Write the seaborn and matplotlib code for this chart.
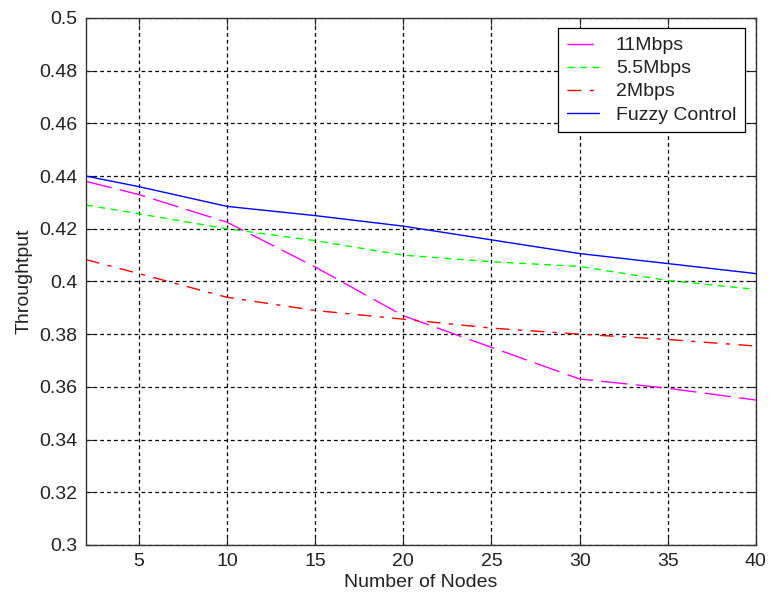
import matplotlib
matplotlib.use("Agg")
import matplotlib.pyplot as plt
import seaborn as sns
import pandas as pd

nodes = [2, 5, 10, 15, 20, 25, 30, 35, 40]
thr_11 = [0.438, 0.433, 0.4225, 0.4055, 0.387, 0.375, 0.363, 0.3595, 0.355]
thr_55 = [0.429, 0.4257, 0.420, 0.4155, 0.410, 0.4075, 0.4057, 0.4004, 0.397]
thr_2 = [0.4083, 0.403, 0.394, 0.389, 0.3857, 0.3823, 0.380, 0.378, 0.3755]
thr_fz = [0.440, 0.436, 0.4285, 0.425, 0.421, 0.4158, 0.4106, 0.4068, 0.403]
series_names = ["11Mbps", "5.5Mbps", "2Mbps", "Fuzzy Control"]
xticks = [5, 10, 15, 20, 25, 30, 35, 40]
yticks = [0.3, 0.32, 0.34, 0.36, 0.38, 0.4, 0.42, 0.44, 0.46, 0.48, 0.5]

sns.set_style("white")
plt.rcParams['font.family'] = ['Liberation Sans', 'DejaVu Sans']

df = pd.DataFrame({
    "nodes": nodes * 4,
    "thr": thr_11 + thr_55 + thr_2 + thr_fz,
    "series": sum([[s] * len(nodes) for s in series_names], []),
})

fig = plt.figure(figsize=(7.69, 6.0), dpi=100)
ax = fig.add_axes([0.1118, 0.0917, 0.8712, 0.8783])

palette = {"11Mbps": "#ff00ff", "5.5Mbps": "#00ff00", "2Mbps": "#ff0000", "Fuzzy Control": "#0000ff"}
dashes = {"11Mbps": (19, 6), "5.5Mbps": (5, 4), "2Mbps": (10, 6, 3, 6), "Fuzzy Control": ""}
sns.lineplot(data=df, x="nodes", y="thr", hue="series", style="series",
             palette=palette, dashes=dashes, hue_order=series_names,
             style_order=series_names, linewidth=1.0, ax=ax, legend=True)

ax.set_xlim(2, 40)
ax.set_ylim(0.3, 0.5)
ax.set_xticks(xticks)
ax.set_yticks(yticks)
ax.set_yticklabels([f"{v:g}" for v in yticks])
ax.grid(True, color="black", linestyle=(0, (3, 2.5)), linewidth=0.9)
ax.set_axisbelow(True)
for sp in ax.spines.values():
    sp.set_visible(True)
    sp.set_color("#333333")
    sp.set_linewidth(1.0)
ax.tick_params(direction="in", length=5, labelsize=14, colors="#222222",
               top=True, right=True, bottom=True, left=True, pad=6)
ax.set_xlabel("Number of Nodes", fontsize=14, labelpad=3, color="#222222")
ax.set_ylabel("Throughtput", fontsize=14, labelpad=5, color="#222222")

leg = ax.legend(loc="upper right", bbox_to_anchor=(0.9836, 0.981), fontsize=14,
                frameon=True, fancybox=False, edgecolor="black", framealpha=1,
                handlelength=1.65, borderpad=0.45, labelspacing=0.28, handletextpad=0.88,
                borderaxespad=0)
leg.get_frame().set_linewidth(0.9)
for t in leg.get_texts():
    t.set_color("#222222")

fig.savefig("out.png", dpi=100)
